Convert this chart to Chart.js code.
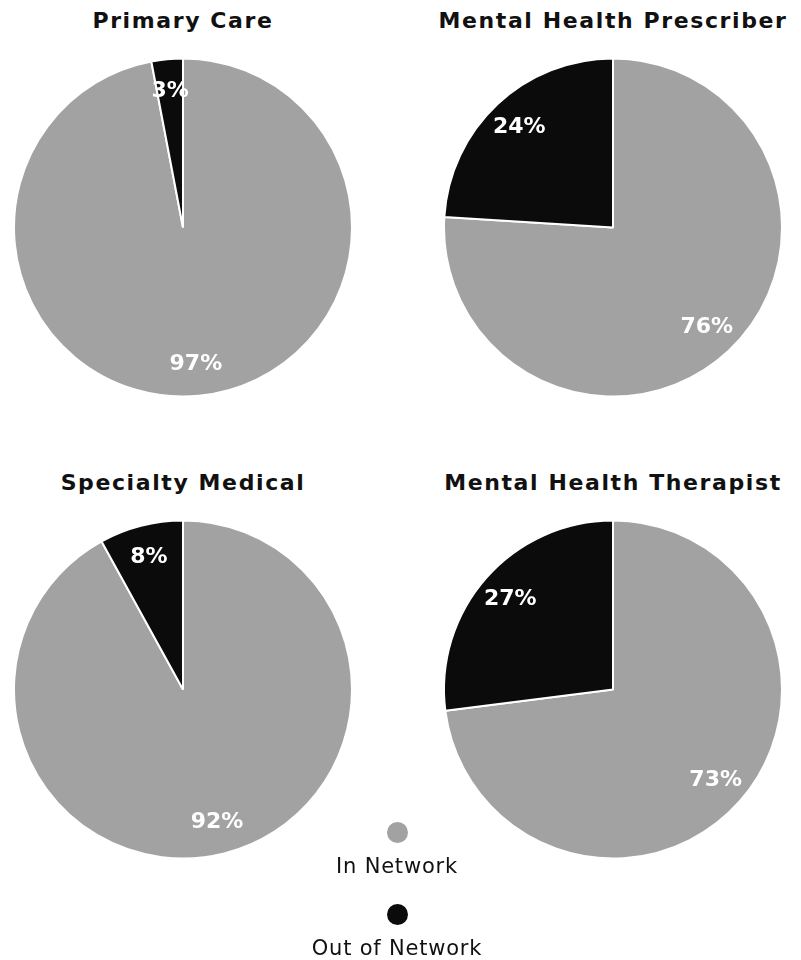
<!DOCTYPE html>
<html>
<head>
<meta charset="utf-8">
<script src="https://cdn.jsdelivr.net/npm/chart.js@4.4.1/dist/chart.umd.min.js"></script>
<style>
  html, body { margin: 0; padding: 0; background: #fff; }
  body { width: 801px; height: 960px; position: relative; overflow: hidden; font-family: "DejaVu Sans", sans-serif; color: #111; }
  .title { position: absolute; width: 400px; text-align: center; font-weight: bold; font-size: 22px; letter-spacing: 1.6px; line-height: 28px; white-space: nowrap; }
  .pie { position: absolute; width: 366px; height: 341px; }
  #legend { position: absolute; left: 297px; width: 200px; top: 822px; text-align: center; font-size: 21px; letter-spacing: 0.8px; }
  .item { display: flex; flex-direction: column; align-items: center; }
  .dot { width: 21px; height: 21px; border-radius: 50%; }
  .lab { margin-top: 10px; line-height: 26px; }
  .item + .item { margin-top: 25px; }
</style>
</head>
<body>
<script>
// Share of providers by network status, per provider type
const categories = ['Primary Care', 'Mental Health Prescriber', 'Specialty Medical', 'Mental Health Therapist'];
const seriesNames = ['In Network', 'Out of Network'];
const inNetwork = [97, 76, 92, 73];
const outOfNetwork = [3, 24, 8, 27];
const seriesColors = ['#a2a2a2', '#0b0b0b'];

// grid placement of the four pies (pie centres at x 183 / 613)
const cells = [
  { left: 0,   top: 57,  titleTop: 7 },
  { left: 430, top: 57,  titleTop: 7 },
  { left: 0,   top: 519, titleTop: 469 },
  { left: 430, top: 519, titleTop: 469 }
];

// white percentage labels placed along each slice's mid angle
const sliceLabels = {
  id: 'sliceLabels',
  afterDatasetsDraw(chart) {
    const ctx = chart.ctx;
    const meta = chart.getDatasetMeta(0);
    const values = chart.data.datasets[0].data;
    ctx.save();
    ctx.font = 'bold 22px "DejaVu Sans", sans-serif';
    ctx.fillStyle = '#ffffff';
    ctx.textAlign = 'center';
    ctx.textBaseline = 'middle';
    meta.data.forEach((arc, i) => {
      const p = arc.getProps(['x', 'y', 'startAngle', 'endAngle', 'outerRadius'], true);
      const mid = (p.startAngle + p.endAngle) / 2;
      const r = p.outerRadius * 0.81;
      ctx.fillText(values[i] + '%', p.x + Math.cos(mid) * r, p.y + Math.sin(mid) * r);
    });
    ctx.restore();
  }
};

categories.forEach((name, k) => {
  const c = cells[k];
  const t = document.createElement('div');
  t.className = 'title';
  t.textContent = name;
  t.style.left = (c.left + 183 - 200) + 'px';
  t.style.top = c.titleTop + 'px';
  document.body.appendChild(t);

  const wrap = document.createElement('div');
  wrap.className = 'pie';
  wrap.style.left = c.left + 'px';
  wrap.style.top = c.top + 'px';
  const cv = document.createElement('canvas');
  wrap.appendChild(cv);
  document.body.appendChild(wrap);

  new Chart(cv, {
    type: 'pie',
    data: {
      labels: seriesNames,
      datasets: [{
        data: [inNetwork[k], outOfNetwork[k]],
        backgroundColor: seriesColors,
        borderColor: '#ffffff',
        borderWidth: 2,
        hoverOffset: 0
      }]
    },
    options: {
      responsive: true,
      maintainAspectRatio: false,
      animation: false,
      events: [],
      layout: { padding: { left: 13, right: 13, top: 0, bottom: 0 } },
      plugins: { legend: { display: false }, tooltip: { enabled: false } }
    },
    plugins: [sliceLabels]
  });
});

// legend below the grid
const legend = document.createElement('div');
legend.id = 'legend';
seriesNames.forEach((n, i) => {
  const it = document.createElement('div');
  it.className = 'item';
  const d = document.createElement('div');
  d.className = 'dot';
  d.style.background = seriesColors[i];
  const l = document.createElement('div');
  l.className = 'lab';
  l.textContent = n;
  it.appendChild(d);
  it.appendChild(l);
  legend.appendChild(it);
});
document.body.appendChild(legend);
</script>
</body>
</html>
